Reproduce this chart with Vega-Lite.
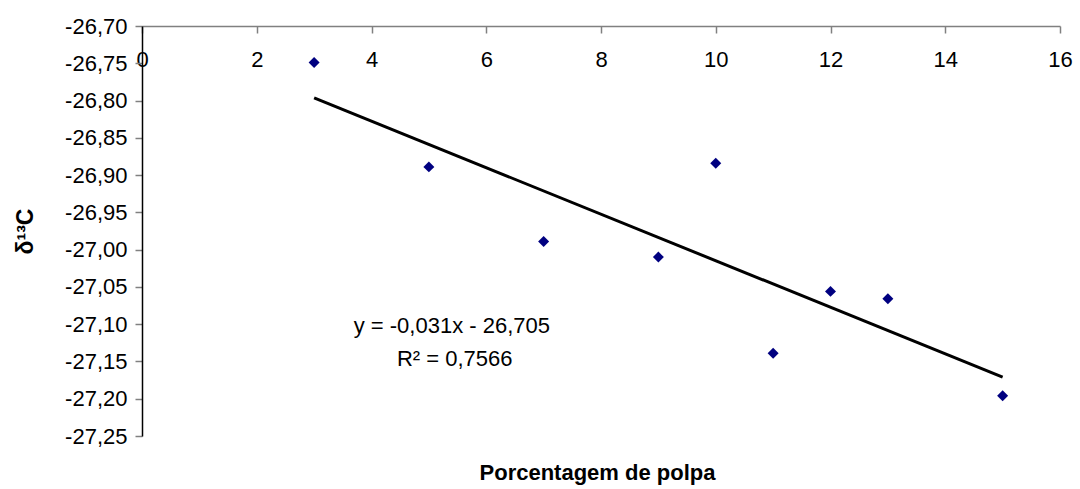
{
  "$schema": "https://vega.github.io/schema/vega-lite/v6.json",
  "width": 918,
  "height": 410,
  "autosize": {"type": "none"},
  "padding": {"left": 142, "top": 26, "right": 20, "bottom": 53},
  "background": "white",
  "config": {
    "view": {"stroke": null},
    "font": "Liberation Sans",
    "axis": {"grid": false, "labelFont": "Liberation Sans", "titleFont": "Liberation Sans", "labelFontSize": 22, "labelFontWeight": "normal", "labelColor": "#000", "titleColor": "#000", "labelFlush": false, "tickSize": 7, "tickColor": "#808080", "tickWidth": 1.5, "domainWidth": 1.5, "titleFontSize": 22, "titleFontWeight": "bold", "titleBaseline": "middle", "titleAnchor": "middle"},
    "axisX": {"orient": "bottom", "offset": -410, "domainColor": "#808080", "labelPadding": 26, "labelBaseline": "middle", "titleX": 455, "titleY": 446},
    "axisY": {"domainColor": "#000000", "labelPadding": 8, "titleX": -117, "titleY": 205, "titleAngle": -90, "titleFontSize": 23}
  },
  "datasets": {
    "pts": [
      {"porcentagem": 3, "d13c": -26.749},
      {"porcentagem": 5, "d13c": -26.889},
      {"porcentagem": 7, "d13c": -26.989},
      {"porcentagem": 9, "d13c": -27.010},
      {"porcentagem": 10, "d13c": -26.884},
      {"porcentagem": 11, "d13c": -27.139},
      {"porcentagem": 12, "d13c": -27.056},
      {"porcentagem": 13, "d13c": -27.066},
      {"porcentagem": 15, "d13c": -27.196}
    ]
  },
  "layer": [
    {
      "data": {"name": "pts"},
      "transform": [
        {"regression": "d13c", "on": "porcentagem", "method": "linear", "extent": [3, 15]}
      ],
      "mark": {"type": "line", "color": "#000000", "strokeWidth": 3},
      "encoding": {
        "x": {"field": "porcentagem", "type": "quantitative", "scale": {"domain": [0, 16], "nice": false, "zero": false},
          "axis": {"orient": "bottom", "offset": -410, "values": [0, 2, 4, 6, 8, 10, 12, 14, 16], "title": "Porcentagem de polpa"}},
        "y": {"field": "d13c", "type": "quantitative", "scale": {"domain": [-27.25, -26.7], "nice": false, "zero": false},
          "axis": {"values": [-27.25, -27.2, -27.15, -27.1, -27.05, -27.0, -26.95, -26.9, -26.85, -26.8, -26.75, -26.7], "labelExpr": "replace(replace(format(datum.value, '.2f'), '.', ','), '\u2212', '-')", "title": "δ¹³C"}}
      }
    },
    {
      "data": {"name": "pts"},
      "mark": {"type": "point", "shape": "diamond", "filled": true, "color": "#000080", "opacity": 1, "size": 120},
      "encoding": {
        "x": {"field": "porcentagem", "type": "quantitative", "scale": {"domain": [0, 16], "nice": false, "zero": false},
          "axis": {"orient": "bottom", "offset": -410, "values": [0, 2, 4, 6, 8, 10, 12, 14, 16], "title": "Porcentagem de polpa"}},
        "y": {"field": "d13c", "type": "quantitative", "scale": {"domain": [-27.25, -26.7], "nice": false, "zero": false},
          "axis": {"values": [-27.25, -27.2, -27.15, -27.1, -27.05, -27.0, -26.95, -26.9, -26.85, -26.8, -26.75, -26.7], "labelExpr": "replace(replace(format(datum.value, '.2f'), '.', ','), '\u2212', '-')", "title": "δ¹³C"}}
      }
    },
    {
      "data": {"values": [{"label": "y = -0,031x - 26,705"}]},
      "mark": {"type": "text", "fontSize": 22, "fontWeight": "normal", "color": "#000", "align": "center", "baseline": "middle"},
      "encoding": {
        "x": {"datum": 5.4, "type": "quantitative",
          "axis": {"orient": "bottom", "offset": -410, "values": [0, 2, 4, 6, 8, 10, 12, 14, 16], "title": "Porcentagem de polpa"}},
        "y": {"datum": -27.102, "type": "quantitative",
          "axis": {"values": [-27.25, -27.2, -27.15, -27.1, -27.05, -27.0, -26.95, -26.9, -26.85, -26.8, -26.75, -26.7], "labelExpr": "replace(replace(format(datum.value, '.2f'), '.', ','), '\u2212', '-')", "title": "δ¹³C"}},
        "text": {"field": "label"}
      }
    },
    {
      "data": {"values": [{"label": "R² = 0,7566"}]},
      "mark": {"type": "text", "fontSize": 22, "fontWeight": "normal", "color": "#000", "align": "center", "baseline": "middle"},
      "encoding": {
        "x": {"datum": 5.45, "type": "quantitative",
          "axis": {"orient": "bottom", "offset": -410, "values": [0, 2, 4, 6, 8, 10, 12, 14, 16], "title": "Porcentagem de polpa"}},
        "y": {"datum": -27.147, "type": "quantitative",
          "axis": {"values": [-27.25, -27.2, -27.15, -27.1, -27.05, -27.0, -26.95, -26.9, -26.85, -26.8, -26.75, -26.7], "labelExpr": "replace(replace(format(datum.value, '.2f'), '.', ','), '\u2212', '-')", "title": "δ¹³C"}},
        "text": {"field": "label"}
      }
    }
  ]
}
